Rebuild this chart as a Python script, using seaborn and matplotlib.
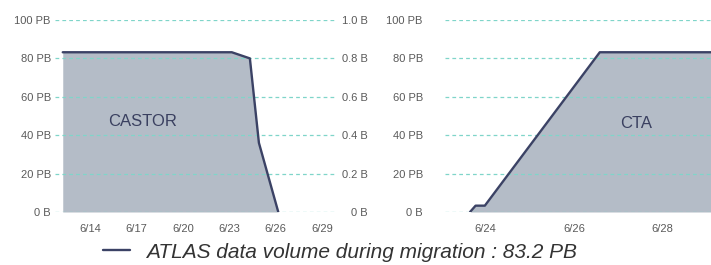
import matplotlib
matplotlib.use("Agg")
import matplotlib.pyplot as plt
import matplotlib.dates as mdates
import matplotlib.ticker as mticker
import pandas as pd
import seaborn as sns

# ---- data ----
castor_time = ["2020-06-12 06:00", "2020-06-23 04:00", "2020-06-24 08:00",
               "2020-06-24 22:00", "2020-06-26 04:00"]
castor_pb = [83.2, 83.2, 80.0, 36.0, 0.0]

cta_time = ["2020-06-23 16:00", "2020-06-23 19:00", "2020-06-24 00:00",
            "2020-06-26 14:00", "2020-06-29 02:00"]
cta_pb = [0.0, 3.3, 3.3, 83.2, 83.2]

left_yticks = [0, 20, 40, 60, 80, 100]
left_ylabels = ["0 B", "20 PB", "40 PB", "60 PB", "80 PB", "100 PB"]
twin_yticks = [0, 0.2, 0.4, 0.6, 0.8, 1.0]
twin_ylabels = ["0 B", "0.2 B", "0.4 B", "0.6 B", "0.8 B", "1.0 B"]
castor_xticks = ["2020-06-14", "2020-06-17", "2020-06-20", "2020-06-23", "2020-06-26", "2020-06-29"]
cta_xticks = ["2020-06-24", "2020-06-26", "2020-06-28"]
legend_label = "ATLAS data volume during migration : 83.2 PB"

castor = pd.DataFrame({"time": pd.to_datetime(castor_time), "pb": castor_pb})
cta = pd.DataFrame({"time": pd.to_datetime(cta_time), "pb": cta_pb})

# ---- style ----
sns.set_theme(style="white")
plt.rcParams["font.family"] = ["Liberation Sans", "DejaVu Sans"]

FILL = "#b4bcc7"
LINE = "#3b4265"
GRID = "#7fd5c9"
TICK = "#5a5a5a"

W, H = 711, 265
fig = plt.figure(figsize=(W / 100, H / 100), dpi=100)

def px_axes(x0, x1, ytop, ybot):
    return fig.add_axes([x0 / W, 1 - ybot / H, (x1 - x0) / W, (ybot - ytop) / H])

ax1 = px_axes(55, 337, 20, 212)
ax2 = px_axes(445, 711, 20, 212)

def style_axis(ax, df, xlim, xticks, label, label_pos):
    ax.fill_between(df["time"], df["pb"], 0, color=FILL, linewidth=0, zorder=1)
    sns.lineplot(data=df, x="time", y="pb", ax=ax, color=LINE, linewidth=1.7, zorder=3)
    ax.set_xlim(pd.Timestamp(xlim[0]), pd.Timestamp(xlim[1]))
    ax.set_ylim(0, 100)
    ax.set_yticks(left_yticks)
    ax.set_yticklabels(left_ylabels)
    ax.set_xticks(pd.to_datetime(xticks))
    ax.xaxis.set_major_formatter(mticker.FuncFormatter(
        lambda v, p: f"{mdates.num2date(v).month}/{mdates.num2date(v).day}"))
    ax.set_xlabel("")
    ax.set_ylabel("")
    for s in ax.spines.values():
        s.set_visible(False)
    ax.yaxis.grid(True, linestyle=(0, (3, 2.5)), color=GRID, linewidth=0.9, zorder=2)
    ax.set_axisbelow(False)
    ax.tick_params(axis="both", length=0, labelsize=8, labelcolor=TICK)
    ax.tick_params(axis="x", pad=9)
    ax.text(label_pos[0], label_pos[1], label, transform=ax.transAxes,
            ha="center", va="center", fontsize=12, color="#3a4060", zorder=4)

style_axis(ax1, castor, ("2020-06-11 18:00", "2020-06-29 23:00"), castor_xticks,
           "CASTOR", (0.31, 0.47))
ax1.tick_params(axis="y", pad=3)

style_axis(ax2, cta, ("2020-06-23 02:30", "2020-06-29 02:00"), cta_xticks,
           "CTA", (0.72, 0.46))
ax2.tick_params(axis="y", pad=16)

tw = ax1.twinx()
tw.set_ylim(0, 1)
tw.set_yticks(twin_yticks)
tw.set_yticklabels(twin_ylabels)
for s in tw.spines.values():
    s.set_visible(False)
tw.tick_params(axis="y", length=0, labelsize=8, labelcolor=TICK, pad=22)
for t in tw.get_yticklabels():
    t.set_ha("right")
tw.grid(False)

line = ax1.get_lines()[0]
leg = fig.legend(handles=[line], labels=[legend_label], loc="center left",
                 bbox_to_anchor=(103 / W, 1 - 252 / H), frameon=False,
                 borderaxespad=0, borderpad=0,
                 handlelength=1.3, handletextpad=0.75,
                 prop={"style": "italic", "size": 15})
for t in leg.get_texts():
    t.set_color("#333333")

fig.savefig("out.png", dpi=100)
